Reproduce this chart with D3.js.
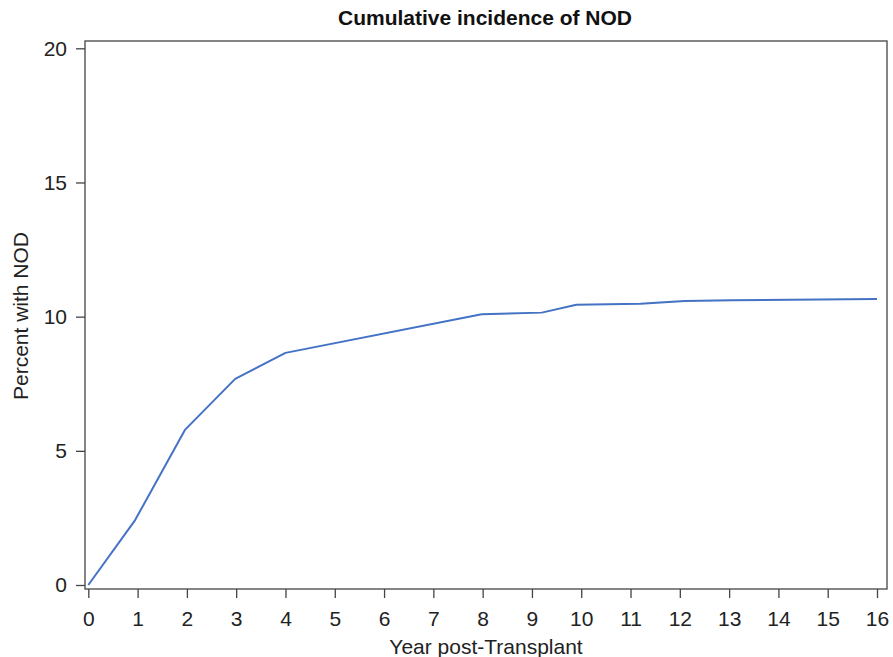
<!DOCTYPE html>
<html>
<head>
<meta charset="utf-8">
<script src="https://cdn.jsdelivr.net/npm/d3@7"></script>
<style>
  body { margin: 0; background: #fff; }
  svg { display: block; font-family: "Liberation Sans", Arial, Helvetica, sans-serif; }
</style>
</head>
<body>
<svg id="chart" width="893" height="657"></svg>
<script>
// Cumulative incidence curve (years post-transplant vs. percent with NOD)
const years   = [0, 0.95, 1.96, 2.98, 4.0, 7.98, 9.2, 9.9, 11.2, 12.1, 13.05, 16.0];
const percent = [0, 2.42, 5.78, 7.68, 8.65, 10.09, 10.15, 10.44, 10.48, 10.58, 10.61, 10.66];
const xTicks  = d3.range(0, 17);
const yTicks  = [0, 5, 10, 15, 20];

const svg = d3.select("#chart");
const box = { left: 85, top: 41, right: 887, bottom: 589 };

const x = d3.scaleLinear().domain([0, 16]).range([88.3, 877]);
const y = d3.scaleLinear().domain([0, 20]).range([585, 48.3]);

const axisColor = "#444";
const fontSize = "21px";

// Frame
svg.append("rect")
  .attr("x", box.left).attr("y", box.top)
  .attr("width", box.right - box.left).attr("height", box.bottom - box.top)
  .attr("fill", "none").attr("stroke", axisColor).attr("stroke-width", 1.3);

// X axis
const xAxis = svg.append("g")
  .attr("transform", `translate(0,${box.bottom})`)
  .call(d3.axisBottom(x).tickValues(xTicks).tickSize(9).tickPadding(13).tickFormat(d3.format("d")));
xAxis.select(".domain").remove();
xAxis.selectAll("line").attr("stroke", axisColor).attr("stroke-width", 1.3);
xAxis.selectAll("text").attr("fill", "#222").style("font-size", fontSize);

// Y axis
const yAxis = svg.append("g")
  .attr("transform", `translate(${box.left},0)`)
  .call(d3.axisLeft(y).tickValues(yTicks).tickSize(9).tickPadding(9).tickFormat(d3.format("d")));
yAxis.select(".domain").remove();
yAxis.selectAll("line").attr("stroke", axisColor).attr("stroke-width", 1.3);
yAxis.selectAll("text").attr("fill", "#222").style("font-size", fontSize);

// Curve
const line = d3.line().x((d, i) => x(years[i])).y(d => y(d));
svg.append("path")
  .datum(percent)
  .attr("d", line)
  .attr("fill", "none")
  .attr("stroke", "#4472C4")
  .attr("stroke-width", 2)
  .attr("stroke-linejoin", "round");

// Title and axis labels
svg.append("text")
  .attr("x", 485).attr("y", 25)
  .attr("text-anchor", "middle")
  .style("font-size", "21px").style("font-weight", "bold")
  .attr("fill", "#111")
  .text("Cumulative incidence of NOD");

svg.append("text")
  .attr("x", 486).attr("y", 654)
  .attr("text-anchor", "middle")
  .style("font-size", fontSize).attr("fill", "#222")
  .text("Year post-Transplant");

svg.append("text")
  .attr("transform", "translate(28,316) rotate(-90)")
  .attr("text-anchor", "middle")
  .style("font-size", fontSize).attr("fill", "#222")
  .text("Percent with NOD");
</script>
</body>
</html>
